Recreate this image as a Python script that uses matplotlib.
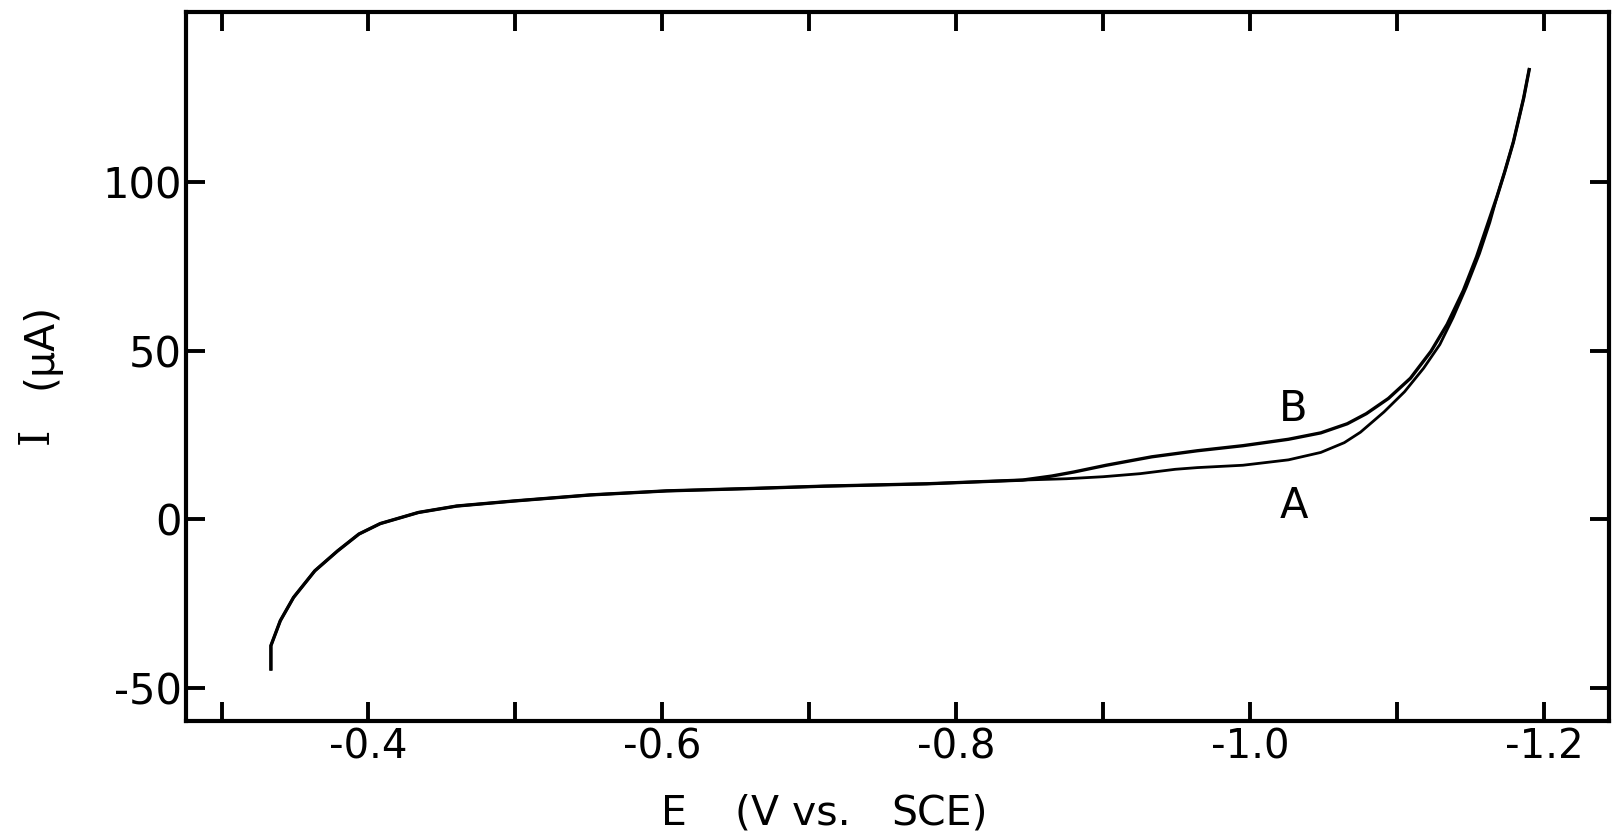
import numpy as np
import matplotlib
matplotlib.use('Agg')
import matplotlib.pyplot as plt
from matplotlib.ticker import FixedLocator

plt.rcParams['font.family'] = ['DejaVu Sans']
plt.rcParams['axes.unicode_minus'] = False

# shared part of the two sweeps (E in V vs SCE, I in uA)
common_E = [-0.3336, -0.3336, -0.340, -0.349, -0.3635, -0.379, -0.3935, -0.408,
            -0.434, -0.460, -0.499, -0.551, -0.603, -0.660, -0.71, -0.78, -0.815, -0.845]
common_I = [-44.9, -37.5, -30.1, -23.2, -15.3, -9.4, -4.4, -1.3,
            2.0, 3.9, 5.4, 7.2, 8.4, 9.1, 9.8, 10.5, 11.1, 11.6]

# curve B (upper) after the split
tailB_E = [-0.865, -0.880, -0.902, -0.933, -0.964, -0.995, -1.026, -1.048, -1.066, -1.079,
           -1.094, -1.109, -1.123, -1.134, -1.145, -1.154, -1.161]
tailB_I = [12.8, 14.0, 16.0, 18.5, 20.3, 21.8, 23.7, 25.6, 28.3, 31.3,
           35.8, 41.8, 49.8, 57.8, 67.8, 77.8, 86.8]

# curve A (lower) after the split
tailA_E = [-0.875, -0.900, -0.925, -0.949, -0.964, -0.995, -1.026, -1.048, -1.064, -1.075,
           -1.091, -1.105, -1.118, -1.129, -1.138, -1.147, -1.156, -1.163]
tailA_I = [12.0, 12.6, 13.5, 14.8, 15.3, 16.0, 17.6, 19.8, 22.7, 25.8,
           31.8, 37.8, 44.8, 51.8, 59.8, 68.8, 78.8, 88.0]

# where both curves run together again at the top
top_E = [-1.168, -1.173, -1.179, -1.186, -1.190]
top_I = [95.8, 102.8, 111.8, 124.8, 133.8]

x_major = [-0.4, -0.6, -0.8, -1.0, -1.2]
x_labels = ['-0.4', '-0.6', '-0.8', '-1.0', '-1.2']
x_minor = [-0.3, -0.5, -0.7, -0.9, -1.1]
y_ticks = [100, 50, 0, -50]
y_labels = ['100', '50', '0', '-50']

EB = common_E + tailB_E + top_E
IB = common_I + tailB_I + top_I
EA = common_E + tailA_E + top_E
IA = common_I + tailA_I + top_I

W, H = 1614, 835
fig = plt.figure(figsize=(W / 100, H / 100), dpi=100)
ax = fig.add_axes([0.1154, 0.1371, 0.8814, 0.8481])

ax.plot(EA, IA, color='black', lw=2.0, solid_capstyle='butt')
ax.plot(EB, IB, color='black', lw=2.4, solid_capstyle='butt')

ax.set_xlim(-0.276, -1.244)
ax.set_ylim(-59.7, 150.3)

ax.xaxis.set_major_locator(FixedLocator(x_major))
ax.xaxis.set_minor_locator(FixedLocator(x_minor))
ax.set_xticklabels(x_labels)
ax.yaxis.set_major_locator(FixedLocator(y_ticks))
ax.set_yticklabels(y_labels)

for s in ax.spines.values():
    s.set_linewidth(3.0)

ax.tick_params(which='both', direction='in', length=14, width=2.8,
               top=True, right=True, bottom=True, left=True)
ax.tick_params(axis='x', which='major', labelsize=29, pad=5)
ax.tick_params(axis='y', which='major', labelsize=30, pad=3)

ax.text(-1.029, 32.7, 'B', fontsize=30, ha='center', va='center')
ax.text(-1.030, 3.9, 'A', fontsize=30, ha='center', va='center')

# x label, spaced like the original lettering
base = 1 - 825 / H
fig.text(674 / W, base, 'E', fontsize=29.5, ha='center', va='baseline')
fig.text(735 / W, base, '(V vs.', fontsize=29.5, ha='left', va='baseline')
fig.text(940 / W, base, 'SCE)', fontsize=29.5, ha='center', va='baseline')

# y label
fig.text(36 / W, 1 - 436 / H, 'I', fontsize=30, family='DejaVu Serif',
         rotation=90, ha='center', va='center')
fig.text(40 / W, 1 - 346 / H, '(µA)', fontsize=29.5, rotation=90,
         ha='center', va='center')

fig.savefig('out.png', dpi=100)
